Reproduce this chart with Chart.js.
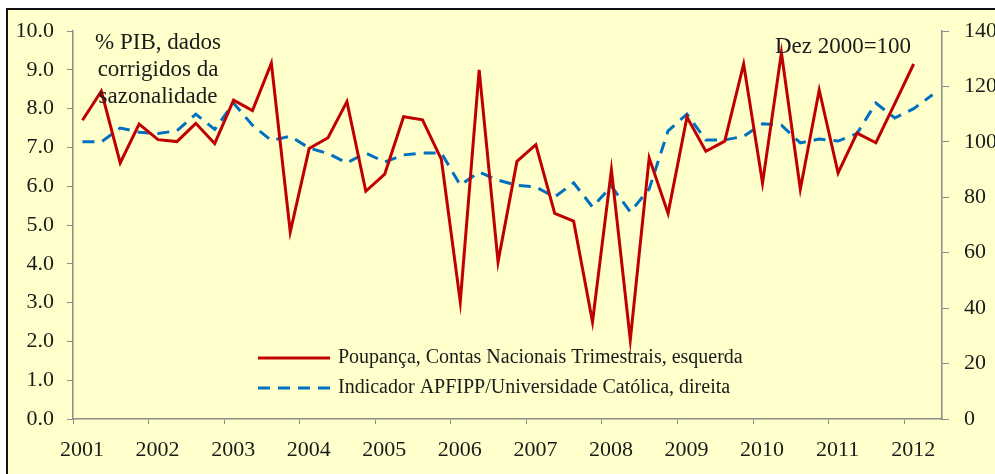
<!DOCTYPE html>
<html>
<head>
<meta charset="utf-8">
<script src="https://cdn.jsdelivr.net/npm/chart.js@4.4.0/dist/chart.umd.min.js"></script>
<style>
  html, body { margin: 0; padding: 0; background: #fff; overflow: hidden; }
  #frame {
    position: absolute; left: 6px; top: 8px; width: 1010px; height: 490px;
    background: #FFFFCC; border: 2px solid #111;
  }
  #wrap { position: absolute; left: 0; top: 0; width: 995px; height: 474px; }
</style>
</head>
<body>
<div id="frame"></div>
<div id="wrap"><canvas id="chart" width="995" height="474"></canvas></div>
<script>
// --- data (quarterly, 2001Q1 onwards) ---
const YEARS = ['2001', '2002', '2003', '2004', '2005', '2006', '2007', '2008', '2009', '2010', '2011', '2012'];
const LEFT_TICKS = [0, 1, 2, 3, 4, 5, 6, 7, 8, 9, 10];
const RIGHT_TICKS = [0, 20, 40, 60, 80, 100, 120, 140];

const POUPANCA = [7.7, 8.45, 6.6, 7.6, 7.2, 7.15, 7.62, 7.1, 8.22, 7.95, 9.17, 4.82,
    6.97, 7.25, 8.18, 5.87, 6.31, 7.79, 7.71, 6.69, 3.02, 9.0, 4.05, 6.64,
    7.07, 5.3, 5.1, 2.5, 6.42, 2.04, 6.73, 5.3, 7.78, 6.9, 7.16, 9.15,
    6.08, 9.44, 5.92, 8.48, 6.34, 7.37, 7.12, 8.13, 9.15];
const APFIPP = [100, 100, 105, 103.5, 103, 104, 110, 104.5, 114, 106, 100.5, 102,
    97.8, 95.8, 92.4, 96, 92.7, 95.3, 96, 96, 84.4, 89.1, 86.2, 84.3,
    83.7, 80.1, 85.2, 76.5, 84, 74.7, 83, 104, 110, 100.7, 100.7, 102,
    106.5, 106, 99.6, 101, 100.3, 103, 114, 108.6, 112, 117];

const SERIES_LABELS = ['Poupança, Contas Nacionais Trimestrais, esquerda',
    'Indicador APFIPP/Universidade Católica, direita'];
const NOTE_LEFT = ['% PIB, dados', 'corrigidos da', 'sazonalidade'];
const NOTE_RIGHT = 'Dez 2000=100';

const N_QUARTERS = 46;
const RED = '#C00000';
const BLUE = '#0070C0';
const AXIS = '#8c8c8c';
const TEXT = '#1a1a1a';
const FONT = '"Liberation Serif", "Times New Roman", serif';

const toPoints = arr => arr.map((v, i) => ({ x: i + 0.5, y: v }));

// annotations + legend drawn by hand inside the plot
const extras = {
    id: 'extras',
    afterDatasetsDraw(chart) {
        const ctx = chart.ctx;
        ctx.save();
        ctx.fillStyle = TEXT;
        ctx.textBaseline = 'middle';
        ctx.font = '23px ' + FONT;
        ctx.textAlign = 'center';
        NOTE_LEFT.forEach((t, i) => ctx.fillText(t, 158, 43 + i * 27));
        ctx.fillText(NOTE_RIGHT, 843, 47);

        ctx.font = '20px ' + FONT;
        ctx.textAlign = 'left';
        chart.data.datasets.forEach((ds, i) => {
            const y = 358 + i * 30;
            ctx.beginPath();
            ctx.strokeStyle = ds.borderColor;
            ctx.lineWidth = 3;
            ctx.setLineDash(ds.borderDash || []);
            ctx.moveTo(258, y);
            ctx.lineTo(330, y);
            ctx.stroke();
            ctx.setLineDash([]);
            ctx.fillText(ds.label, 338, y);
        });
        ctx.restore();
    }
};

new Chart(document.getElementById('chart'), {
    type: 'line',
    data: {
        datasets: [
            {
                label: SERIES_LABELS[0],
                data: toPoints(POUPANCA),
                borderColor: RED,
                borderWidth: 3,
                pointRadius: 0,
                yAxisID: 'y'
            },
            {
                label: SERIES_LABELS[1],
                data: toPoints(APFIPP),
                borderColor: BLUE,
                borderWidth: 3,
                borderDash: [12, 8],
                pointRadius: 0,
                yAxisID: 'y1'
            }
        ]
    },
    options: {
        responsive: false,
        animation: false,
        layout: { padding: { top: 31, left: 0, right: 0, bottom: 0 } },
        plugins: { legend: { display: false }, tooltip: { enabled: false } },
        scales: {
            x: {
                type: 'linear',
                min: 0,
                max: N_QUARTERS,
                afterBuildTicks: s => { s.ticks = YEARS.map((y, k) => ({ value: k * 4 })); },
                afterFit: s => { s.height = 55; },
                ticks: {
                    callback: (v, i) => YEARS[i],
                    labelOffset: 9,
                    padding: 13,
                    maxRotation: 0,
                    autoSkip: false,
                    color: TEXT,
                    font: { family: FONT, size: 22 }
                },
                grid: { drawOnChartArea: false, tickLength: 5, color: AXIS },
                border: { color: AXIS, width: 1.5 }
            },
            y: {
                position: 'left',
                min: 0,
                max: 10,
                afterBuildTicks: s => { s.ticks = LEFT_TICKS.map(v => ({ value: v })); },
                afterFit: s => { s.width = 73; },
                ticks: {
                    callback: v => v.toFixed(1),
                    padding: 13,
                    color: TEXT,
                    font: { family: FONT, size: 22 }
                },
                grid: { drawOnChartArea: false, tickLength: 6, color: AXIS },
                border: { color: AXIS, width: 1.5 }
            },
            y1: {
                position: 'right',
                min: 0,
                max: 140,
                afterBuildTicks: s => { s.ticks = RIGHT_TICKS.map(v => ({ value: v })); },
                afterFit: s => { s.width = 53; },
                ticks: {
                    callback: v => String(v),
                    padding: 15,
                    color: TEXT,
                    font: { family: FONT, size: 22 }
                },
                grid: { drawOnChartArea: false, tickLength: 7, color: AXIS },
                border: { color: AXIS, width: 1.5 }
            }
        }
    },
    plugins: [extras]
});
</script>
</body>
</html>
